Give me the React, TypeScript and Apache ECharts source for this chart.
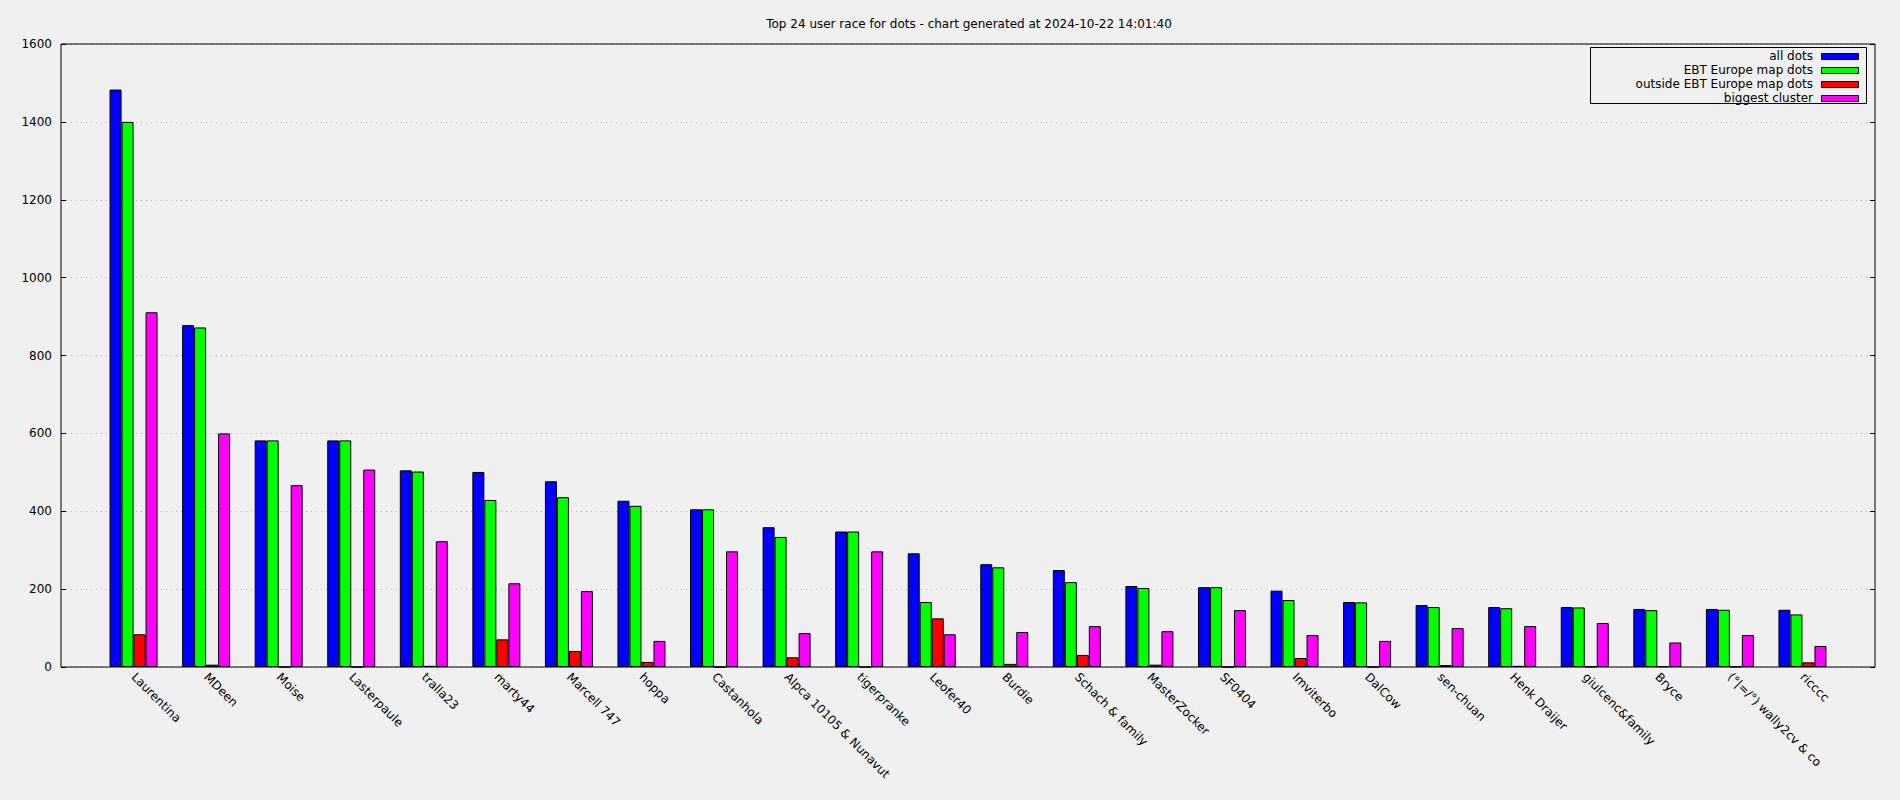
import React, { useEffect, useRef } from "react";
import * as echarts from "echarts";

const titleText = "Top 24 user race for dots - chart generated at 2024-10-22 14:01:40";

const users = [
  "Laurentina", "MDeen", "Moise", "Lasterpaule", "tralla23", "marty44", "Marcell 747", "hoppa",
  "Castanhola", "Alpca 10105 & Nunavut", "tigerpranke", "Leofer40", "Burdie", "Schach & family",
  "MasterZocker", "SF0404", "Imviterbo", "DalCow", "sen-chuan", "Henk Draijer", "giulcenc&family",
  "Bryce", "(°|=/°) wally2cv & co", "ricccc",
];

const allDots = [1483, 878, 582, 582, 505, 501, 477, 427, 405, 359, 348, 292, 264, 249, 208, 205, 196, 167, 159, 154, 154, 149, 149, 147];
const europeDots = [1400, 872, 582, 582, 502, 429, 436, 414, 405, 334, 348, 167, 256, 218, 203, 205, 172, 166, 154, 151, 153, 146, 147, 135];
const outsideDots = [84, 6, 0, 0, 3, 71, 41, 13, 0, 25, 0, 125, 8, 31, 6, 0, 23, 0, 5, 3, 1, 2, 1, 12];
const biggestCluster = [911, 600, 467, 507, 323, 215, 195, 67, 297, 87, 297, 84, 90, 105, 92, 146, 82, 67, 100, 105, 113, 63, 82, 54];

const seriesNames = ["all dots", "EBT Europe map dots", "outside EBT Europe map dots", "biggest cluster"];
const seriesColors = ["#0000ff", "#00ff00", "#ff0000", "#ff00ff"];
const seriesData = [allDots, europeDots, outsideDots, biggestCluster];

const yMin = 0;
const yMax = 1600;
const yStep = 200;

const FONT = "DejaVu Sans";

export default function App() {
  const ref = useRef<HTMLDivElement>(null);

  useEffect(() => {
    if (!ref.current) return;
    const chart = echarts.init(ref.current, undefined, { renderer: "svg" });

    const plotLeft = 61;
    const plotRight = 1875;
    const plotTop = 44;
    const plotBottom = 667;
    const unit = (plotRight - plotLeft) / (users.length + 1);
    const barsLeft = plotLeft + unit / 2;
    const barsRight = plotRight - unit / 2;

    const legendRight = 1866;
    const legendLeft = 1590;
    const legendTop = 47.5;
    const rowH = 14;
    const legendGraphics: any[] = [
      {
        type: "rect",
        shape: { x: legendLeft + 0.5, y: legendTop, width: legendRight - legendLeft, height: 56 },
        style: { fill: "none", stroke: "#000", lineWidth: 1 },
        z: 100,
      },
    ];
    seriesNames.forEach((name, i) => {
      const cy = legendTop + 8.5 + i * rowH;
      legendGraphics.push({
        type: "text",
        x: 1813,
        y: cy,
        style: {
          text: name,
          fill: "#000",
          font: `12px "${FONT}"`,
          align: "right",
          verticalAlign: "middle",
        },
        z: 100,
      });
      legendGraphics.push({
        type: "rect",
        shape: { x: 1821.5, y: Math.round(cy - 3) + 0.5, width: 37, height: 6 },
        style: { fill: seriesColors[i], stroke: "#000", lineWidth: 1 },
        z: 100,
      });
    });

    chart.setOption({
      animation: false,
      backgroundColor: "#f0f0f0",
      textStyle: { fontFamily: FONT },
      title: {
        text: titleText,
        left: 964,
        top: 13,
        textAlign: "center",
        textStyle: { fontFamily: FONT, fontSize: 12, fontWeight: "normal", color: "#000" },
      },
      grid: [
        {
          left: plotLeft,
          top: plotTop,
          width: plotRight - plotLeft,
          height: plotBottom - plotTop,
          show: true,
          borderColor: "#000",
          borderWidth: 1,
          backgroundColor: "transparent",
          z: 3,
        },
        {
          left: barsLeft,
          top: plotTop,
          width: barsRight - barsLeft,
          height: plotBottom - plotTop,
        },
      ],
      xAxis: [
        { type: "value", gridIndex: 0, min: 0, max: 1, show: false },
        {
          type: "category",
          gridIndex: 1,
          data: users,
          boundaryGap: true,
          axisLine: { show: false },
          axisTick: { show: false },
          splitLine: { show: false },
          axisLabel: {
            interval: 0,
            rotate: -45,
            margin: 8,
            fontFamily: FONT,
            fontSize: 12,
            color: "#000",
          },
        },
      ],
      yAxis: [
        {
          type: "value",
          gridIndex: 0,
          min: yMin,
          max: yMax,
          interval: yStep,
          position: "left",
          axisLine: { show: false },
          axisTick: { show: true, inside: true, length: 5, lineStyle: { color: "#000" } },
          axisLabel: {
            margin: 9,
            fontFamily: FONT,
            fontSize: 12,
            color: "#000",
            formatter: (v: number) => String(v),
          },
          splitLine: { show: true, lineStyle: { color: "#b4b4b4", width: 1, type: [1, 4] } },
        },
        {
          type: "value",
          gridIndex: 0,
          min: yMin,
          max: yMax,
          interval: yStep,
          position: "right",
          axisLine: { show: false },
          axisTick: { show: true, inside: true, length: 5, lineStyle: { color: "#000" } },
          axisLabel: { show: false },
          splitLine: { show: false },
        },
        {
          type: "value",
          gridIndex: 1,
          min: yMin,
          max: yMax,
          interval: yStep,
          show: false,
          splitLine: { show: false },
        },
      ],
      series: seriesNames.map((name, i) => ({
        type: "bar",
        name,
        xAxisIndex: 1,
        yAxisIndex: 2,
        data: seriesData[i],
        barWidth: 12,
        barGap: "0%",
        itemStyle: { color: seriesColors[i], borderColor: "#000", borderWidth: 1 },
        z: 2,
      })),
      graphic: legendGraphics,
    });

    return () => chart.dispose();
  }, []);

  return (
    <div
      ref={ref}
      style={{ position: "fixed", left: 0, top: 0, width: 1900, height: 800 }}
    />
  );
}
